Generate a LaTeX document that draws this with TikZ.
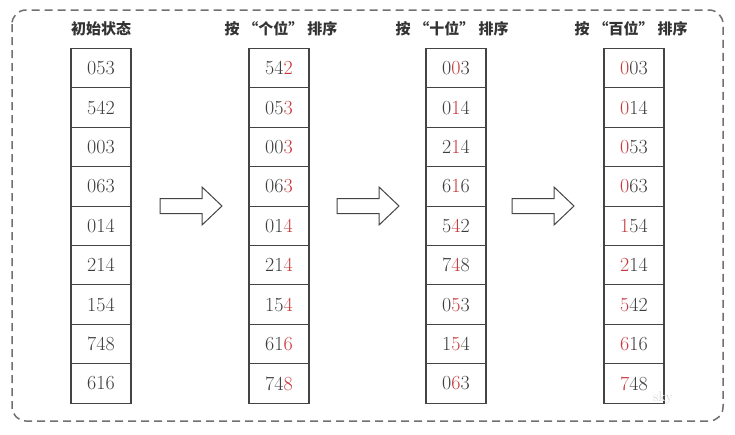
\documentclass[tikz,border=0pt]{standalone}
\usepackage{fontspec}
\newfontfamily\cjk{Noto Sans CJK SC}
\definecolor{numred}{HTML}{C8383A}
\definecolor{numgray}{HTML}{3C3C3C}
\definecolor{boxline}{HTML}{444444}
\definecolor{borderc}{HTML}{707070}
\newcommand\rd[1]{\textcolor{numred}{#1}}
\newcommand\qsp{\hspace{4pt}}
\tikzset{
  cell/.style={draw=boxline, line width=1.1pt, minimum width=60pt, minimum height=39.4pt,
    inner sep=0pt, text=numgray, font=\fontsize{20}{20}\selectfont},
  header/.style={text=black!80, font=\cjk\bfseries\fontsize{15}{15}\selectfont, inner sep=0pt},
  bigarrow/.style={draw=boxline, line width=1pt, fill=white, line join=miter}
}
\newcommand\blockarrow[1]{%
  \draw[bigarrow] (#1) ++(0,-7.5) -- ++(42,0) -- ++(0,-11.5) -- ++(20,19)
    -- ++(-20,19) -- ++(0,-11.5) -- ++(-42,0) -- cycle;}
\begin{document}
\begin{tikzpicture}[x=1pt,y=-1pt]
\useasboundingbox (0,0) rectangle (735,434);
\draw[borderc, line width=1.5pt, dash pattern=on 8pt off 5pt, rounded corners=14pt] (12,10) rectangle (723,421);
\node[header] (h1) at (101,29) {初始状态};
\node[header] (h2) at (281,29) {按\qsp{}“个位”\qsp{}排序};
\node[header] (h3) at (452,29) {按\qsp{}“十位”\qsp{}排序};
\node[header] (h4) at (631,29) {按\qsp{}“百位”\qsp{}排序};
\foreach \v [count=\i] in {053,542,003,063,014,214,154,748,616}
  \node[cell] (a\i) at (101,{68.2+(\i-1)*39.4}) {\v};
\foreach \v [count=\i] in {{54\rd{2}},{05\rd{3}},{00\rd{3}},{06\rd{3}},{01\rd{4}},{21\rd{4}},{15\rd{4}},{61\rd{6}},{74\rd{8}}}
  \node[cell] (b\i) at (279,{68.2+(\i-1)*39.4}) {\v};
\foreach \v [count=\i] in {{0\rd{0}3},{0\rd{1}4},{2\rd{1}4},{6\rd{1}6},{5\rd{4}2},{7\rd{4}8},{0\rd{5}3},{1\rd{5}4},{0\rd{6}3}}
  \node[cell] (c\i) at (456,{68.2+(\i-1)*39.4}) {\v};
\foreach \v [count=\i] in {{\rd{0}03},{\rd{0}14},{\rd{0}53},{\rd{0}63},{\rd{1}54},{\rd{2}14},{\rd{5}42},{\rd{6}16},{\rd{7}48}}
  \node[cell] (d\i) at (634,{68.2+(\i-1)*39.4}) {\v};
\coordinate (ar1) at (160,206);
\coordinate (ar2) at (337,206);
\coordinate (ar3) at (512,206);
\blockarrow{ar1}
\blockarrow{ar2}
\blockarrow{ar3}
\node[text=black!15, font=\fontsize{14}{14}\selectfont] (wm) at (663,398) {sky};
\end{tikzpicture}
\end{document}
